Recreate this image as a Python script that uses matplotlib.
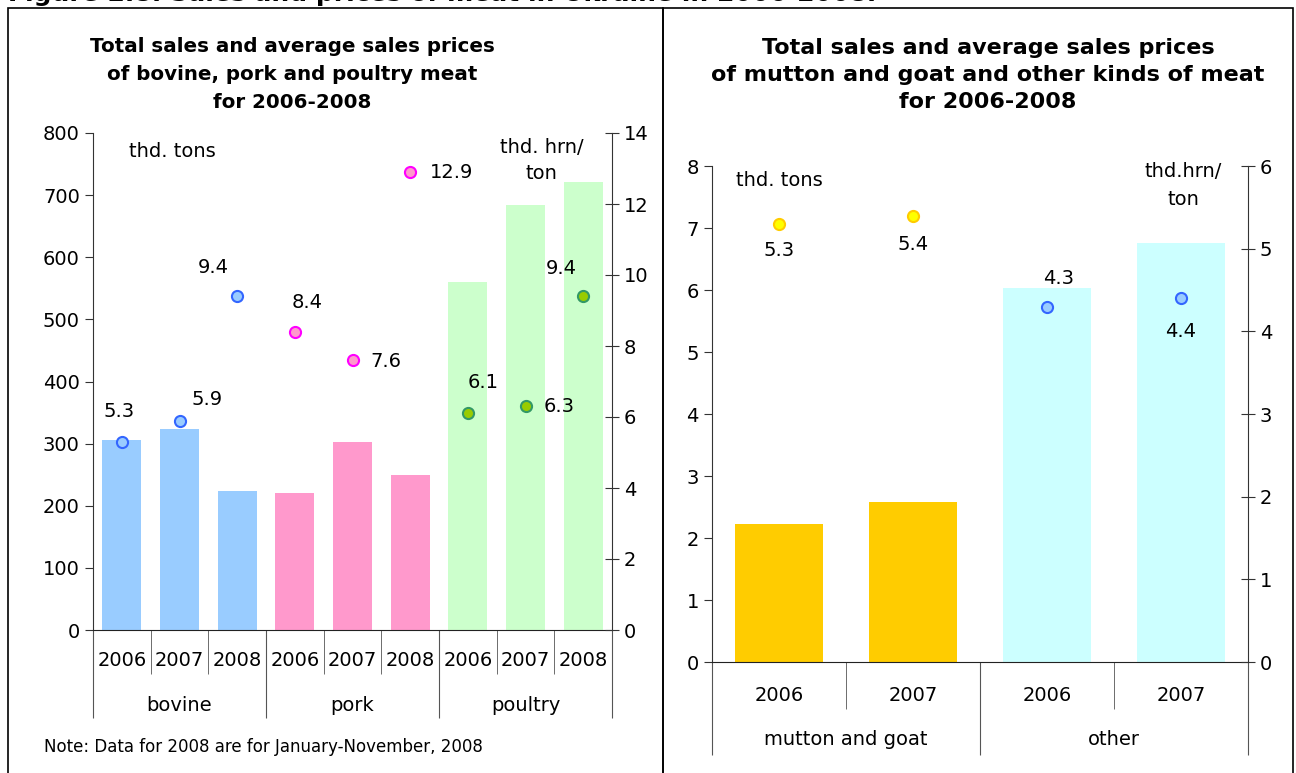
import matplotlib.pyplot as plt
import matplotlib.transforms as mtransforms
from matplotlib.patches import Rectangle
from matplotlib.ticker import FixedLocator

# left panel data
groups_l = ['bovine', 'pork', 'poultry']
years_l = ['2006', '2007', '2008']
sales_l = [306, 324, 223, 220, 302, 250, 560, 684, 721]      # thd. tons
prices_l = [5.3, 5.9, 9.4, 8.4, 7.6, 12.9, 6.1, 6.3, 9.4]     # thd. hrn/ton
bar_cols_l = ['#99CCFF'] * 3 + ['#FF99CC'] * 3 + ['#CCFFCC'] * 3
dot_face_l = ['#99CCFF'] * 3 + ['#FF99CC'] * 3 + ['#99CC00'] * 3
dot_edge_l = ['#3366FF'] * 3 + ['#FF00FF'] * 3 + ['#339966'] * 3
# label offsets in points (dx, dy)
lab_off_l = [(-2, 22), (20, 15), (-17, 21), (9, 21), (24, -1), (30, 0), (11, 22), (24, 0), (-16, 20)]

# right panel data
groups_r = ['mutton and goat', 'other']
years_r = ['2006', '2007']
sales_r = [2.23, 2.58, 6.03, 6.76]
prices_r = [5.3, 5.4, 4.3, 4.4]
bar_cols_r = ['#FFCC00'] * 2 + ['#CCFFFF'] * 2
dot_face_r = ['#FFFF00'] * 2 + ['#99CCFF'] * 2
dot_edge_r = ['#FFCC00'] * 2 + ['#3366FF'] * 2
lab_off_r = [(0, -19), (0, -21), (8, 20), (0, -24)]

FS = 14
plt.rcParams['font.family'] = 'DejaVu Sans'
fig = plt.figure(figsize=(12.96, 7.73), dpi=100)

# panel frames and cut-off figure heading
for x0, w in [(8, 655), (663, 630)]:
    fig.patches.append(Rectangle((x0 / 1296, -0.01), w / 1296, 1.0 - 8 / 773 + 0.01,
                                 transform=fig.transFigure, fill=False,
                                 edgecolor='black', linewidth=1.2))
fig.text(8 / 1296, 1 - 1 / 773, 'Figure 2.8: Sales and prices of meat in Ukraine in 2006-2008.',
         fontsize=18, fontweight='bold', va='baseline', ha='left')


def draw_panel(rect, groups, years, sales, prices, bar_cols, dfc, dec, offs,
               ylim, yticks, y2lim, y2ticks, bw, yl_off, gl_off, minor_len, major_len):
    ax = fig.add_axes(rect)
    n = len(sales)
    x = list(range(n))
    ax.bar(x, sales, width=bw, color=bar_cols, zorder=2)
    ax.set_xlim(-0.5, n - 0.5)
    ax.set_ylim(*ylim)
    ax.set_yticks(yticks)
    ax.spines['top'].set_visible(False)
    ax.spines['right'].set_visible(False)
    ax.spines['left'].set_color('#333333')
    ax.spines['bottom'].set_color('#222222')
    ax.tick_params(axis='y', direction='out', length=6, labelsize=FS, color='#333333')

    # category separators drawn as ticks
    ny = len(years)
    group_b = [g * ny - 0.5 for g in range(len(groups) + 1)]
    year_b = [i - 0.5 for i in range(1, n) if i % ny != 0]
    ax.xaxis.set_major_locator(FixedLocator(group_b))
    ax.xaxis.set_minor_locator(FixedLocator(year_b))
    ax.tick_params(axis='x', which='major', length=major_len, color='#555555', labelbottom=False)
    ax.tick_params(axis='x', which='minor', length=minor_len, color='#555555', labelbottom=False)

    trans = mtransforms.blended_transform_factory(ax.transData, ax.transAxes)
    for i in x:
        ax.text(i, -yl_off, years[i % ny], transform=trans, ha='center', va='center', fontsize=FS)
    for g, name in enumerate(groups):
        ax.text(g * ny + (ny - 1) / 2, -gl_off, name, transform=trans,
                ha='center', va='center', fontsize=FS)

    ax2 = ax.twinx()
    ax2.set_ylim(*y2lim)
    ax2.set_yticks(y2ticks)
    for s in ['top', 'left', 'bottom']:
        ax2.spines[s].set_visible(False)
    ax2.spines['right'].set_color('#333333')
    ax2.tick_params(axis='y', direction='inout', length=10, labelsize=FS, color='#333333')
    for i in x:
        ax2.plot(i, prices[i], 'o', ms=8, mfc=dfc[i], mec=dec[i], mew=1.5, zorder=3)
        ax2.annotate(f'{prices[i]:.1f}', (i, prices[i]), textcoords='offset points',
                     xytext=offs[i], ha='center', va='center', fontsize=FS)
    return ax, ax2


axl, axl2 = draw_panel([93 / 1296, 143 / 773, 519 / 1296, 497 / 773],
                       groups_l, years_l, sales_l, prices_l, bar_cols_l,
                       dot_face_l, dot_edge_l, lab_off_l,
                       (0, 800), range(0, 801, 100), (0, 14), range(0, 15, 2),
                       0.68, 0.062, 0.151, 32, 63)
axr, axr2 = draw_panel([712 / 1296, 111 / 773, 536 / 1296, 496 / 773],
                       groups_r, years_r, sales_r, prices_r, bar_cols_r,
                       dot_face_r, dot_edge_r, lab_off_r,
                       (0, 8), range(0, 9), (0, 6), range(0, 7),
                       0.66, 0.067, 0.157, 34, 67)

# unit labels
axl.text(0.07, 0.962, 'thd. tons', transform=axl.transAxes, fontsize=FS, va='center', ha='left')
axl.text(0.865, 0.945, 'thd. hrn/\nton', transform=axl.transAxes, fontsize=FS,
         va='center', ha='center', linespacing=1.5)
axr.text(0.045, 0.97, 'thd. tons', transform=axr.transAxes, fontsize=FS, va='center', ha='left')
axr.text(0.88, 0.96, 'thd.hrn/\nton', transform=axr.transAxes, fontsize=FS,
         va='center', ha='center', linespacing=1.6)

# panel titles
fig.text(292 / 1296, 1 - 75 / 773,
         'Total sales and average sales prices\nof bovine, pork and poultry meat\nfor 2006-2008',
         ha='center', va='center', fontsize=14.3, fontweight='bold', linespacing=1.6)
fig.text(988 / 1296, 1 - 75 / 773,
         'Total sales and average sales prices\nof mutton and goat and other kinds of meat\nfor 2006-2008',
         ha='center', va='center', fontsize=16, fontweight='bold', linespacing=1.45)

fig.text(44 / 1296, 1 - 747 / 773, 'Note: Data for 2008 are for January-November, 2008',
         ha='left', va='center', fontsize=12)

fig.savefig('out.png', dpi=100)
